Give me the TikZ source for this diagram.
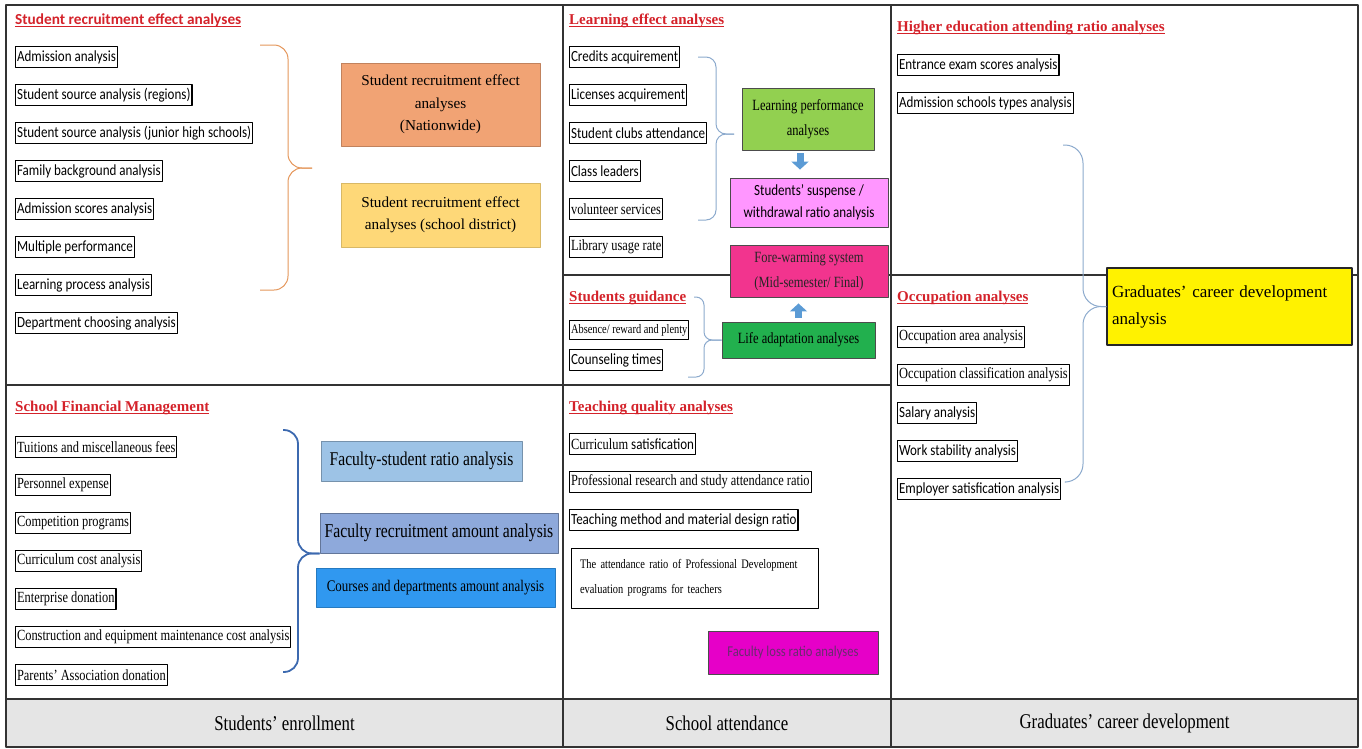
\documentclass[tikz,border=0pt]{standalone}
\usepackage{fontspec}
\setmainfont{Liberation Serif}
\newfontfamily\cfont[FakeStretch=0.84]{Carlito}
\newfontfamily\chead{Carlito}
\newfontfamily\nfont[FakeStretch=0.8]{Liberation Serif}
\newcommand\sr{\nfont\fontsize{15.5}{17}\selectfont}
\newcommand\redline[1]{\setbox0\hbox{#1}\rlap{\rule[-2.6pt]{\wd0}{1.1pt}}\box0}
\usetikzlibrary{positioning,arrows.meta}

\definecolor{headred}{RGB}{212,34,42}
\definecolor{barfill}{RGB}{229,229,229}
\definecolor{peach}{RGB}{241,163,116}
\definecolor{sand}{RGB}{254,216,120}
\definecolor{leaf}{RGB}{146,208,80}
\definecolor{lilac}{RGB}{255,150,255}
\definecolor{rose}{RGB}{242,52,142}
\definecolor{grass}{RGB}{34,176,78}
\definecolor{flrmag}{RGB}{230,0,200}
\definecolor{flrtext}{RGB}{105,45,110}
\definecolor{sky}{RGB}{157,195,230}
\definecolor{slate}{RGB}{142,169,219}
\definecolor{azure}{RGB}{48,152,240}
\definecolor{arrblue}{RGB}{91,155,213}
\definecolor{brorange}{RGB}{228,150,90}
\definecolor{brgrey}{RGB}{140,170,205}
\definecolor{brblue}{RGB}{60,105,175}

\begin{document}
\begin{tikzpicture}[%
    x=1pt, y=-1pt,              % work in image pixels, y grows downwards
    line join=round,
    ]
% -------------------------------------------------
% A few box styles
\tikzset{
  item/.style={draw, line width=1.1pt, anchor=west, inner xsep=1.5pt,
    inner ysep=0pt, minimum height=21pt, font=\cfont\fontsize{15.5}{17}\selectfont},
  sitem/.style={item, font=\sr},
  dn/.style={below=38pt of #1.west, anchor=west},
  head/.style={anchor=west, inner sep=0pt, text=headred,
    font=\bfseries\fontsize{15}{17}\selectfont},
  cbox/.style={draw=black!70, line width=0.9pt, align=center, inner sep=2pt},
  % brace and block arrow lines
  brc/.style={rounded corners=14pt, line width=1pt},
  blk/.style={line width=7pt, draw=arrblue, -{Triangle[width=17pt,length=8pt]}},
  bar/.style={font=\nfont\fontsize{21}{23}\selectfont}
}
% -------------------------------------------------
% Frame, columns and the bottom bar
\useasboundingbox (0,0) rectangle (1362,748);
\fill[barfill] (6,699) rectangle (1358,747);
\draw[black!80, line width=1.1pt]
  (6,5) rectangle (1358,747)
  (563,5) -- (563,747) (891,5) -- (891,747)
  (6,385) -- (891,385) (563,275) -- (1358,275);
\draw[black!80, line width=1.8pt] (6,699) -- (1358,699);

\node[bar] (b1) at (284.5,723) {Students’ enrollment};
\node[bar] (b2) at (727,723) {School attendance};
\node[bar] (b3) at (1124.5,723) {Graduates’ career development};

% -------------------------------------------------
% Students' enrollment: recruitment
\node[head, font=\chead\bfseries\fontsize{15.3}{17}\selectfont] (h1) at (15,20)
  {\redline{Student recruitment effect analyses}};
\node[item] (sr1) at (15,57) {Admission analysis};
\node[item, dn=sr1] (sr2) {Student source analysis (regions)};
\node[item, dn=sr2] (sr3) {Student source analysis (junior high schools)};
\node[item, dn=sr3] (sr4) {Family background analysis};
\node[item, dn=sr4] (sr5) {Admission scores analysis};
\node[item, dn=sr5] (sr6) {Multiple performance};
\node[item, dn=sr6] (sr7) {Learning process analysis};
\node[item, dn=sr7] (sr8) {Department choosing analysis};

\node[cbox, fill=peach, draw=peach!80!black, minimum width=199pt,
  minimum height=83pt, font=\fontsize{15.2}{22.5}\selectfont] (nat) at (440.5,104.5)
  {Student recruitment effect\\analyses\\(Nationwide)};
\node[cbox, fill=sand, draw=sand!85!black, minimum width=199pt,
  minimum height=64pt, font=\fontsize{15.2}{22.5}\selectfont] (sdis) at (440.5,215)
  {Student recruitment effect\\analyses (school district)};

\draw[brc, brorange] (312,168) -| (288,45) -- (260,45);
\draw[brc, brorange] (312,168) -| (288,290) -- (260,290);

% -------------------------------------------------
% Students' enrollment: finance
\node[head] (h5) at (15,408) {\redline{School Financial Management}};
\node[sitem] (fm1) at (15,447) {Tuitions and miscellaneous fees\hspace{9pt}};
\node[sitem, dn=fm1] (fm2) {Personnel expense};
\node[sitem, dn=fm2] (fm3) {Competition programs};
\node[sitem, dn=fm3] (fm4) {Curriculum cost analysis};
\node[sitem, dn=fm4] (fm5) {Enterprise donation};
\node[sitem, dn=fm5] (fm6) {Construction and equipment maintenance cost analysis};
\node[sitem, dn=fm6] (fm7) {Parents’ Association donation};

\node[cbox, fill=sky, draw=sky!75!black, minimum width=201pt, minimum height=40pt,
  font=\nfont\fontsize{19.5}{21}\selectfont] (fsr) at (421.5,461) {Faculty-student ratio analysis};
\node[cbox, fill=slate, draw=slate!70!black, minimum width=238pt, minimum height=40pt,
  font=\nfont\fontsize{19.6}{21}\selectfont] (fra) at (439,533) {Faculty recruitment amount analysis};
\node[cbox, fill=azure, draw=azure!80!black, minimum width=239pt, minimum height=39pt,
  font=\nfont\fontsize{16.2}{18}\selectfont] (cda) at (435.5,587.5) {Courses and departments amount analysis};

\draw[brc, brblue, line width=1.8pt] (fra.south west) -| (298,430) -- (283,430);
\draw[brc, brblue, line width=1.8pt] (fra.south west) -| (298,672) -- (283,672);

% -------------------------------------------------
% School attendance: learning effect and guidance
\node[head] (h2) at (569,21) {\redline{Learning effect analyses}};
\node[item] (le1) at (569,57) {Credits acquirement};
\node[item, dn=le1] (le2) {Licenses acquirement};
\node[item, dn=le2] (le3) {Student clubs attendance};
\node[item, dn=le3] (le4) {Class leaders};
\node[sitem, dn=le4] (le5) {volunteer services};
\node[sitem, dn=le5] (le6) {Library usage rate};

\node[cbox, fill=leaf, minimum width=132pt, minimum height=62pt,
  font=\nfont\fontsize{15.6}{25}\selectfont] (lpa) at (808,119) {Learning performance\\analyses};
\node[cbox, fill=lilac, minimum width=158pt, minimum height=49pt,
  font=\cfont\fontsize{15.5}{22}\selectfont] (ssw) at (809,202.5)
  {Students’ suspense /\\withdrawal ratio analysis};
\node[cbox, fill=rose, minimum width=158pt, minimum height=52pt, text=black!85,
  font=\nfont\fontsize{15.6}{25}\selectfont] (fws) at (809,271)
  {Fore-warming system\\(Mid-semester/ Final)};
\node[cbox, fill=grass, minimum width=153pt, minimum height=36pt,
  font=\nfont\fontsize{15.6}{17}\selectfont] (lad) at (798.5,340) {Life adaptation analyses};

\draw[blk, shorten <=3pt, shorten >=8pt]
  ([xshift=-8pt]lpa.south) -- ([xshift=-8pt]lpa.south |- ssw.north);
\draw[blk, shorten <=4pt, shorten >=6pt] (lad.north) -- (lad.north |- fws.south);

\draw[brc, brgrey, rounded corners=10pt] (734,134) -| (716,57) -- (698,57);
\draw[brc, brgrey, rounded corners=10pt] (734,134) -| (716,220) -- (698,220);

\node[head] (h7) at (569,298) {\redline{Students guidance}};
\node[sitem, minimum height=19pt, font=\nfont\fontsize{13}{14}\selectfont] (sg1) at (569,330)
  {Absence/ reward and plenty};
\node[item] (sg2) at (569,360) {Counseling times};

\draw[brc, brgrey, rounded corners=8pt] (lad.west) -| (704,297) -- (694,297);
\draw[brc, brgrey, rounded corners=8pt] (lad.west) -| (704,377) -- (688,377);

% -------------------------------------------------
% School attendance: teaching quality
\node[head] (h6) at (569,408) {\redline{Teaching quality analyses}};
\node[item] (tq1) at (569,444) {{\sr Curriculum} satisfication};
\node[sitem, dn=tq1] (tq2) {Professional research and study attendance ratio};
\node[item, dn=tq2] (tq3) {Teaching method and material design ratio};
\node[cbox, fill=white, draw=black, minimum width=247pt, minimum height=60pt,
  text width=229pt, align=left, font=\nfont\fontsize{13}{25}\selectfont] (tq4) at (694.5,578)
  {The attendance ratio of Professional Development\\evaluation programs for teachers};
\node[cbox, fill=flrmag, minimum width=170pt, minimum height=43pt, text=flrtext,
  font=\cfont\fontsize{15}{17}\selectfont] (flr) at (793,652.5) {Faculty loss ratio analyses};

% -------------------------------------------------
% Graduates' career development
\node[head] (h3) at (897,28) {\redline{Higher education attending ratio analyses}};
\node[item] (he1) at (897,65) {Entrance exam scores analysis};
\node[item, dn=he1] (he2) {Admission schools types analysis};

\node[head] (h4) at (897,298) {\redline{Occupation analyses}};
\node[sitem] (oc1) at (897,337) {Occupation area analysis};
\node[sitem, dn=oc1] (oc2) {Occupation classification analysis};
\node[item, dn=oc2] (oc3) {Salary analysis};
\node[item, dn=oc3] (oc4) {Work stability analysis};
\node[item, dn=oc4] (oc5) {Employer satisfication analysis};

\node[cbox, fill=yellow, draw=black!85, line width=1.3pt, minimum width=245pt,
  minimum height=77pt, text width=235pt, align=left,
  font=\fontsize{17}{27}\selectfont] (gcd) at (1229.5,306.5)
  {Graduates’ career development\\analysis};

\draw[brc, brgrey, rounded corners=18pt] (gcd.west) -| (1083,145) -- (1063,145);
\draw[brc, brgrey, rounded corners=18pt] (gcd.west) -| (1083,482) -- (1066,482);
% -------------------------------------------------
\end{tikzpicture}
\end{document}
